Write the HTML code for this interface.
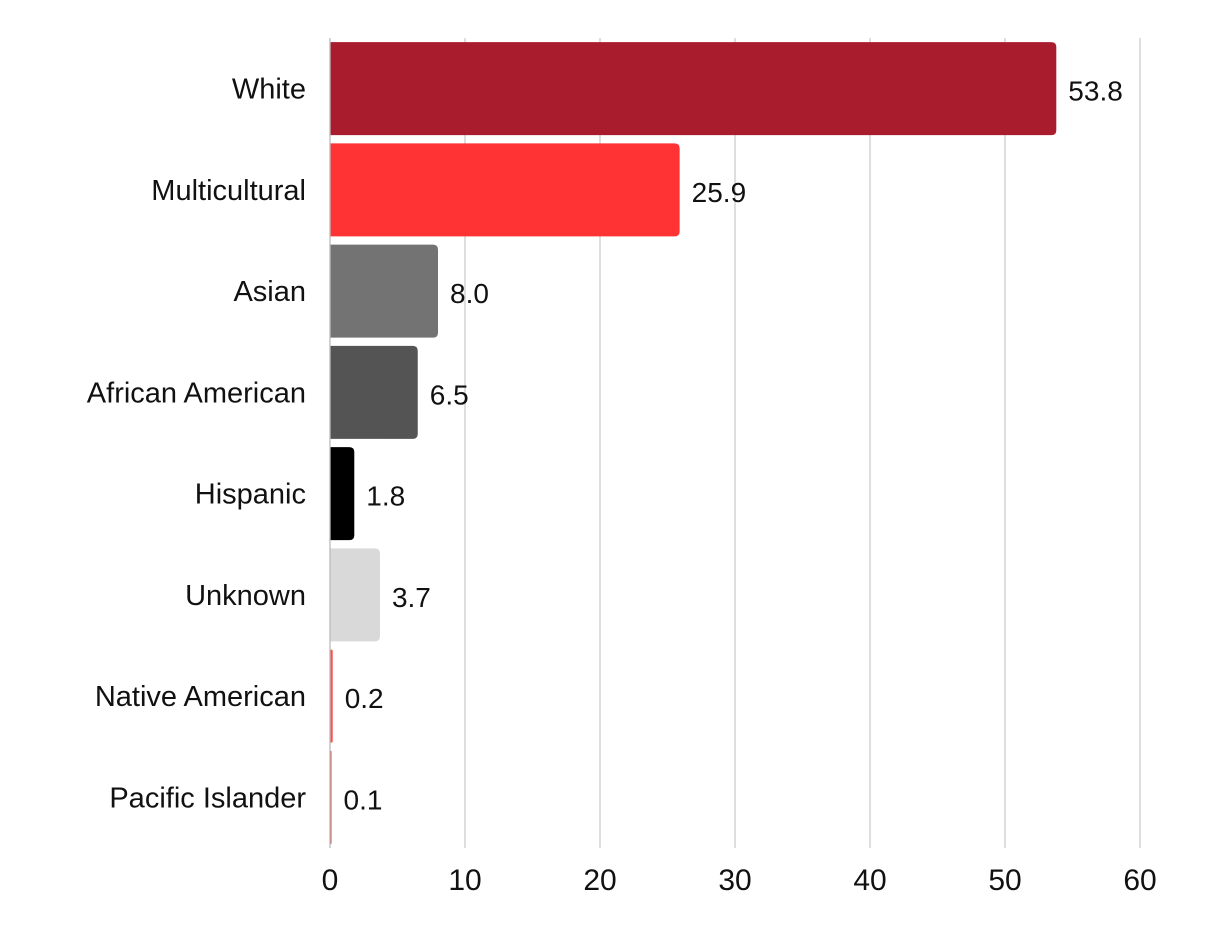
<!DOCTYPE html>
<html><head><meta charset="utf-8"><style>
html,body{margin:0;padding:0;background:#fff;}
svg{display:block;font-family:"Liberation Sans",sans-serif;}
</style></head><body>
<svg id="chart" width="1226" height="934"></svg>
<script>
const categories=["White","Multicultural","Asian","African American","Hispanic","Unknown","Native American","Pacific Islander"];
const values=[53.8,25.9,8.0,6.5,1.8,3.7,0.2,0.1];
const valueLabels=["53.8","25.9","8.0","6.5","1.8","3.7","0.2","0.1"];
const colors=["#a91c2d","#ff3333","#737373","#545454","#000000","#d9d9d9","#ff4d4d","#e04545"];
const ticks=[0,10,20,30,40,50,60];
const NS="http://www.w3.org/2000/svg";
const svgEl=document.getElementById("chart");
const x0=330,x1=1140,xmax=60,yTop=38,yBottom=848;
const band=(yBottom-yTop)/categories.length, barH=93;
const xs=v=>x0+(v/xmax)*(x1-x0);
function mk(t,a){const e=document.createElementNS(NS,t);for(const k in a)e.setAttribute(k,a[k]);svgEl.appendChild(e);return e;}
ticks.forEach((t,i)=>{
  if(t>0){const g=mk("line",{x1:xs(t),x2:xs(t),y1:yTop,y2:yBottom,stroke:"#cccccc","stroke-width":1.3});
  
  }
  const tl=mk("text",{x:xs(t),y:890,"text-anchor":"middle","font-size":30,fill:"#111"});
  tl.textContent=t;
  
  
});
categories.forEach((c,i)=>{
  const yc=yTop+band*i+band/2;
  const w=Math.max(xs(values[i])-x0,1.5);
  const r=Math.min(5,w/2);
  const y=yc-barH/2;
  const d=`M${x0},${y}H${x0+w-r}Q${x0+w},${y} ${x0+w},${y+r}V${y+barH-r}Q${x0+w},${y+barH} ${x0+w-r},${y+barH}H${x0}Z`;
  const b=mk("path",{d:d,fill:colors[i]});
  
  
  const cl=mk("text",{x:306,y:yc+10,"text-anchor":"end","font-size":29,fill:"#111"});
  cl.textContent=c;
  
  
  const vl=mk("text",{x:x0+w+12,y:yc+12,"font-size":28,fill:"#111"});
  vl.textContent=valueLabels[i];
  
  
});
const ax=mk("line",{x1:x0,x2:x0,y1:yTop,y2:yBottom,stroke:"#bbbbbb","stroke-width":1.3});


</script>
</body></html>
